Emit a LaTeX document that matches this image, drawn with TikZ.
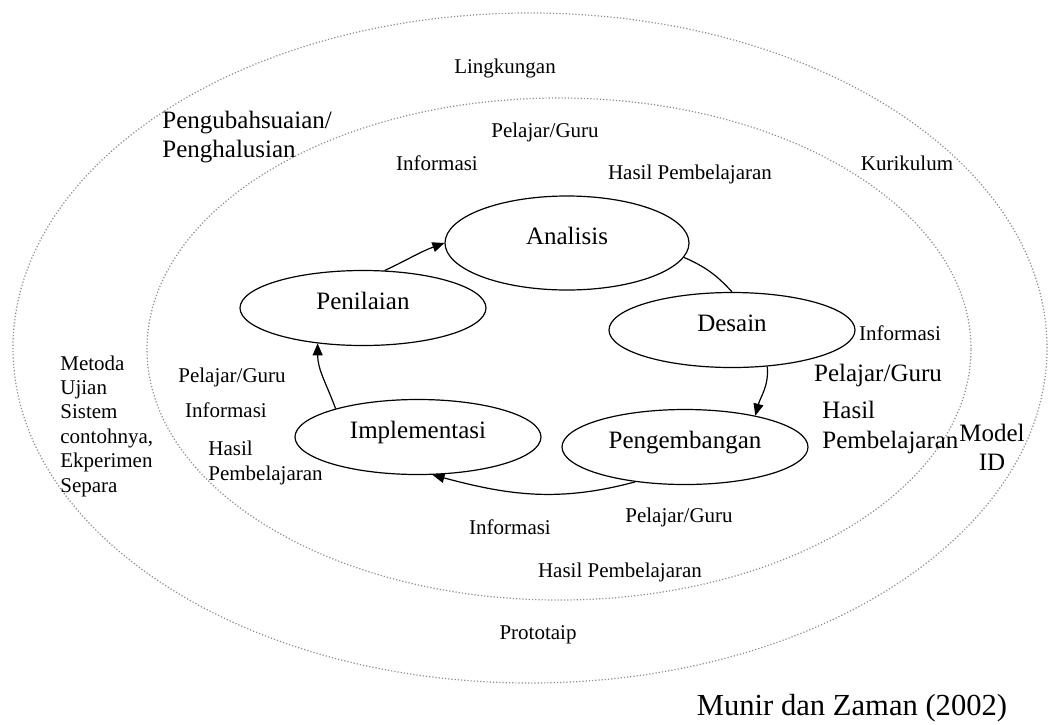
\documentclass[tikz,border=0pt]{standalone}
\usepackage{fontspec}
\setmainfont{Liberation Serif}
\usetikzlibrary{shapes.geometric, arrows.meta}

\begin{document}
\begin{tikzpicture}
  [
    x=0.5pt, y=-0.5pt,
    >={Triangle[length=6pt, width=5pt]},
    Stage/.style={ellipse, draw=black, semithick, minimum width=123pt, minimum height=37.5pt, inner sep=0pt, font=\fontsize{12.5}{15}\selectfont, text height=9pt, text depth=8pt},
    Ring/.style={draw=black!45, densely dotted, line width=0.6pt},
    Small/.style={inner sep=0pt, align=left, font=\fontsize{10.5}{12.2}\selectfont},
    Big/.style={inner sep=0pt, align=left, font=\fontsize{12.5}{15}\selectfont}
  ]
  \useasboundingbox (0,0) rectangle (1049,724);

  % Rings
  \draw[Ring] (530,348) ellipse [x radius=258.5pt, y radius=167.5pt];
  \draw[Ring] (559,349) ellipse [x radius=206pt, y radius=125.5pt];

  % Nodes
  \node[Stage, minimum width=122pt, minimum height=47pt] (ana) at (567,243) {Analisis};
  \node[Stage] (des) at (732,330) {Desain};
  \node[Stage] (peng) at (685,447) {Pengembangan};
  \node[Stage] (imp) at (418,437) {Implementasi};
  \node[Stage] (pen) at (363,308) {Penilaian};

  % Labels
  \node[Small] (lingkungan) at (505,68) {Lingkungan};
  \node[Big, anchor=west, font=\fontsize{12.5}{14.5}\selectfont] (ubah) at (162,137) {Pengubahsuaian/\\Penghalusian};
  \node[Small] (pgTop) at (545,132) {Pelajar/Guru};
  \node[Small] (infTop) at (437,163) {Informasi};
  \node[Small] (hpTop) at (690,174) {Hasil Pembelajaran};
  \node[Small] (kurikulum) at (907,163) {Kurikulum};
  \node[Small] (infRight) at (900,333) {Informasi};
  \node[Big] (pgRight) at (878,375) {Pelajar/Guru};
  \node[Big, anchor=west] (hpRight) at (822,427) {Hasil\\Pembelajaran};
  \node[Big, align=center, font=\fontsize{12.5}{14.5}\selectfont] (modelId) at (992,447) {Model\\ID};
  \node[Small, anchor=west] (metoda) at (60,426) {Metoda\\Ujian\\Sistem\\contohnya,\\Ekperimen\\Separa};
  \node[Small] (pgLeft) at (232,377) {Pelajar/Guru};
  \node[Small] (infLeft) at (226,410) {Informasi};
  \node[Small, anchor=west, font=\fontsize{10.5}{12.5}\selectfont] (hpLeft) at (208,463) {Hasil\\Pembelajaran};
  \node[Small] (infBottom) at (510,527) {Informasi};
  \node[Small] (pgBottom) at (679,517) {Pelajar/Guru};
  \node[Small] (hpBottom) at (620,572) {Hasil Pembelajaran};
  \node[Small] (prototaip) at (538,635) {Prototaip};
  \node[inner sep=0pt, font=\fontsize{15.3}{18}\selectfont] (source) at (852,708) {Munir dan Zaman (2002)};

  % Lines
  \path [->, draw, semithick] (pen.60) to[out=25, in=200] (ana.west);
  \path [draw, semithick] (ana.-7) to[bend left=12] (des.north);
  \path [->, draw, semithick] (des.-46) to[out=-85, in=75] (peng.24);
  \path [->, draw, semithick] (peng.215) to[out=195, in=-15] (imp.-69);
  \path [->, draw, semithick] (imp.161) to[out=110, in=-90] (pen.218);

\end{tikzpicture}
\end{document}
